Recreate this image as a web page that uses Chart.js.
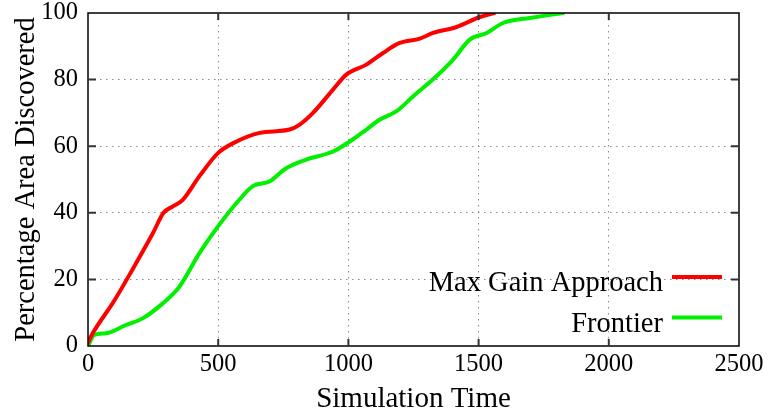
<!DOCTYPE html>
<html>
<head>
<meta charset="utf-8">
<script src="https://cdn.jsdelivr.net/npm/chart.js@4/dist/chart.umd.min.js"></script>
<style>
  html, body { margin: 0; padding: 0; background: #fff; }
  #wrap { width: 769px; height: 414px; }
</style>
</head>
<body>
<div id="wrap"><canvas id="c" width="769" height="414"></canvas></div>
<script>
// ---- data ----
const seriesNames = ["Max Gain Approach", "Frontier"];
const maxGainX = [0, 18, 100, 171, 250, 290, 325, 364, 428, 500, 560, 659, 774, 813, 864, 941, 992, 1069, 1133, 1197, 1274, 1325, 1415, 1505, 1560];
const maxGainY = [1, 3.8, 13.5, 23, 34, 40, 41.9, 43.9, 51, 58, 61, 64, 65, 66.5, 70, 77, 81.5, 84.5, 88, 91, 92.3, 94, 95.8, 98.8, 100];
const frontierX = [0, 24, 69, 146, 210, 287, 351, 428, 500, 582, 633, 697, 761, 838, 941, 1005, 1069, 1121, 1185, 1249, 1338, 1402, 1466, 1531, 1594, 1697, 1824];
const frontierY = [0, 3.3, 3.8, 6.3, 8.3, 12.8, 17.8, 27.9, 36, 44, 48, 49.4, 53.4, 56, 58.4, 61.4, 65, 68, 70.5, 75, 81, 86, 92, 94, 97, 98.5, 100];
const xTicks = [0, 500, 1000, 1500, 2000, 2500];
const yTicks = [0, 20, 40, 60, 80, 100];
const xTitle = "Simulation Time";
const yTitle = "Percentage Area Discovered";

const toPts = (xs, ys) => xs.map((x, i) => ({ x: x, y: ys[i] }));
const SERIF = "'Liberation Serif', 'Times New Roman', serif";

// inward tick marks, frame and in-plot legend
const framePlugin = {
  id: 'frame',
  afterDatasetsDraw(chart) {
    const ctx = chart.ctx, a = chart.chartArea;
    const xs = chart.scales.x, ys = chart.scales.y;
    ctx.save();
    ctx.strokeStyle = '#000';
    ctx.lineWidth = 1.5;
    ctx.strokeRect(a.left, a.top, a.right - a.left, a.bottom - a.top);
    ctx.lineWidth = 2;
    ctx.strokeStyle = '#333';
    xTicks.slice(1, -1).forEach(v => {
      const p = xs.getPixelForValue(v);
      ctx.beginPath();
      ctx.moveTo(p, a.bottom); ctx.lineTo(p, a.bottom - 7);
      ctx.moveTo(p, a.top); ctx.lineTo(p, a.top + 7);
      ctx.stroke();
    });
    yTicks.slice(1, -1).forEach(v => {
      const p = ys.getPixelForValue(v);
      ctx.beginPath();
      ctx.moveTo(a.left, p); ctx.lineTo(a.left + 8, p);
      ctx.moveTo(a.right, p); ctx.lineTo(a.right - 8, p);
      ctx.stroke();
    });
    // legend
    ctx.font = '28.5px ' + SERIF;
    ctx.textAlign = 'right';
    ctx.textBaseline = 'alphabetic';
    ctx.fillStyle = '#000';
    chart.data.datasets.forEach((ds, i) => {
      const lineY = a.top + 264 + i * 40.5;
      ctx.fillText(ds.label, a.right - 76, lineY + 14);
      ctx.strokeStyle = ds.borderColor;
      ctx.lineWidth = 4;
      ctx.beginPath();
      ctx.moveTo(a.right - 67, lineY);
      ctx.lineTo(a.right - 17, lineY);
      ctx.stroke();
    });
    ctx.restore();
  }
};

const dotted = (ctx) => {
  const v = ctx.tick && ctx.tick.value;
  return (v === ctx.scale.min || v === ctx.scale.max) ? 'rgba(0,0,0,0)' : '#8a8a8a';
};

new Chart(document.getElementById('c'), {
  type: 'line',
  data: {
    datasets: [
      { label: seriesNames[0], data: toPts(maxGainX, maxGainY), borderColor: '#ff0000', borderWidth: 4,
        pointRadius: 0, cubicInterpolationMode: 'monotone', borderCapStyle: 'round', borderJoinStyle: 'round', fill: false },
      { label: seriesNames[1], data: toPts(frontierX, frontierY), borderColor: '#00f000', borderWidth: 4,
        pointRadius: 0, cubicInterpolationMode: 'monotone', borderCapStyle: 'round', borderJoinStyle: 'round', fill: false }
    ]
  },
  options: {
    responsive: false,
    animation: false,
    events: [],
    layout: { padding: { top: 13, right: 30, left: 0, bottom: 0 } },
    plugins: { legend: { display: false }, tooltip: { enabled: false } },
    scales: {
      x: {
        type: 'linear', min: 0, max: 2500,
        afterBuildTicks: (s) => { s.ticks = xTicks.map(v => ({ value: v })); },
        afterFit: (s) => { s.height = 68; s.paddingLeft = 0; s.paddingRight = 0; },
        ticks: { color: '#000', font: { family: SERIF, size: 24.5 }, padding: 4, maxRotation: 0,
                 callback: (v) => String(v) },
        grid: { color: dotted, lineWidth: 1, drawTicks: false },
        border: { display: false, dash: [1.5, 4.5] },
        title: { display: true, text: xTitle, color: '#000', font: { family: SERIF, size: 29, lineHeight: 1.0 }, padding: { top: 0, bottom: 0 } }
      },
      y: {
        min: 0, max: 100,
        afterBuildTicks: (s) => { s.ticks = yTicks.map(v => ({ value: v })); },
        afterFit: (s) => { s.width = 88; s.paddingTop = 0; s.paddingBottom = 0; },
        ticks: { color: '#000', font: { family: SERIF, size: 24.5 }, padding: 10, callback: (v) => String(v) },
        grid: { color: dotted, lineWidth: 1, drawTicks: false },
        border: { display: false, dash: [1.5, 4.5] },
        title: { display: true, text: yTitle, color: '#000', font: { family: SERIF, size: 28.5 }, padding: { top: 9, bottom: 0 } }
      }
    }
  },
  plugins: [framePlugin]
});
</script>
</body>
</html>
